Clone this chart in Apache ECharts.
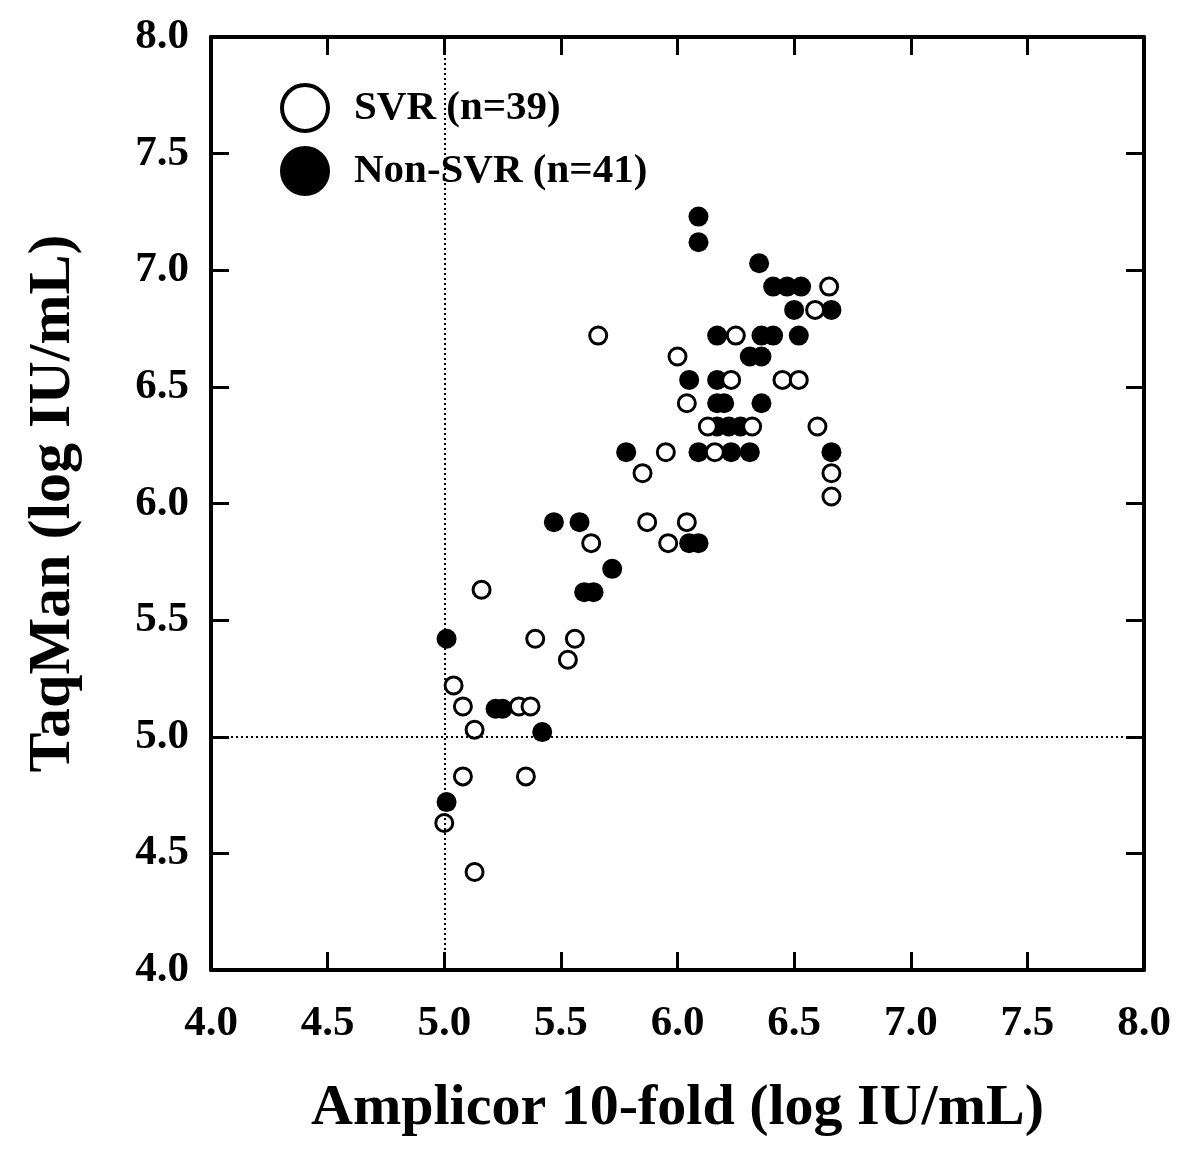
<!DOCTYPE html>
<html>
<head>
<meta charset="utf-8">
<script src="https://cdn.jsdelivr.net/npm/echarts@6/dist/echarts.min.js"></script>
<style>html,body{margin:0;padding:0;background:#fff}#c{width:1200px;height:1156px}</style>
</head>
<body>
<div id="c"></div>
<script>
// Amplicor 10-fold (x) vs TaqMan (y), log IU/mL
const svrX = [6.65,6.59,5.66,6.25,6.00,6.23,6.45,6.52,6.04,6.13,6.32,6.60,5.95,6.16,5.85,6.66,6.66,5.87,6.04,5.63,5.96,5.16,5.39,5.56,5.53,5.04,5.08,5.32,5.37,5.13,5.08,5.35,5.00,5.13];
const svrY = [6.93,6.83,6.72,6.72,6.63,6.53,6.53,6.53,6.43,6.33,6.33,6.33,6.22,6.22,6.13,6.13,6.03,5.92,5.92,5.83,5.83,5.63,5.42,5.42,5.33,5.22,5.13,5.13,5.13,5.03,4.83,4.83,4.63,4.42];
const nonX = [6.09,6.09,6.35,6.41,6.47,6.53,6.50,6.66,6.17,6.36,6.41,6.52,6.31,6.36,6.05,6.17,6.17,6.20,6.36,6.17,6.22,6.27,5.78,6.09,6.23,6.31,6.66,5.47,5.58,6.05,6.09,5.72,5.60,5.64,5.01,5.22,5.25,5.42,5.01];
const nonY = [7.23,7.12,7.03,6.93,6.93,6.93,6.83,6.83,6.72,6.72,6.72,6.72,6.63,6.63,6.53,6.53,6.43,6.43,6.43,6.33,6.33,6.33,6.22,6.22,6.22,6.22,6.22,5.92,5.92,5.83,5.83,5.72,5.62,5.62,5.42,5.12,5.12,5.02,4.72];
const seriesNames = ['SVR (n=39)', 'Non-SVR (n=41)'];
const axisMin = 4.0, axisMax = 8.0, axisStep = 0.5;
const cutoff = 5.0;
const xTitle = 'Amplicor 10-fold (log IU/mL)';
const yTitle = 'TaqMan (log IU/mL)';

const FONT = '"Liberation Serif", "Times New Roman", serif';
const zip = (a, b) => a.map((v, i) => [v, b[i]]);
const fmt = v => v.toFixed(1);

const baseAxis = {
  type: 'value', min: axisMin, max: axisMax, interval: axisStep,
  axisLine: { show: true, lineStyle: { color: '#000', width: 4 } },
  axisTick: { show: true, inside: true, length: 18, lineStyle: { color: '#000', width: 3 } },
  splitLine: { show: false }
};
const labelStyle = { color: '#000', fontFamily: FONT, fontWeight: 'bold', fontSize: 43, formatter: fmt };

const chart = echarts.init(document.getElementById('c'), null, { renderer: 'canvas' });
chart.setOption({
  backgroundColor: '#fff',
  animation: false,
  grid: { left: 211, right: 56, top: 37, bottom: 186, containLabel: false },
  legend: {
    orient: 'vertical', left: 280, top: 83, padding: 0,
    itemWidth: 46, itemHeight: 46, itemGap: 13,
    icon: 'circle',
    data: seriesNames,
    itemStyle: { borderWidth: 4 },
    textStyle: { color: '#000', fontFamily: FONT, fontWeight: 'bold', fontSize: 41, lineHeight: 46, padding: [0, 0, 0, 21] }
  },
  xAxis: [
    Object.assign({}, baseAxis, {
      position: 'bottom',
      axisLabel: Object.assign({}, labelStyle, { margin: 32 }),
      name: xTitle, nameLocation: 'middle', nameGap: 110,
      nameTextStyle: { color: '#000', fontFamily: FONT, fontWeight: 'bold', fontSize: 58 }
    }),
    Object.assign({}, baseAxis, { position: 'top', axisLabel: { show: false } })
  ],
  yAxis: [
    Object.assign({}, baseAxis, {
      position: 'left',
      axisLabel: Object.assign({}, labelStyle, { margin: 22 }),
      name: yTitle, nameLocation: 'middle', nameGap: 128,
      nameTextStyle: { color: '#000', fontFamily: FONT, fontWeight: 'bold', fontSize: 60 }
    }),
    Object.assign({}, baseAxis, { position: 'right', axisLabel: { show: false } })
  ],
  series: [
    {
      name: seriesNames[1], type: 'scatter', symbol: 'circle', symbolSize: 20, z: 2,
      itemStyle: { color: '#000', borderColor: '#000', borderWidth: 0, opacity: 1 },
      data: zip(nonX, nonY),
      markLine: {
        silent: true, symbol: 'none', label: { show: false },
        lineStyle: { color: '#000', type: [2, 3], width: 2 },
        data: [{ xAxis: cutoff }, { yAxis: cutoff }]
      }
    },
    {
      name: seriesNames[0], type: 'scatter', symbol: 'circle', symbolSize: 17, z: 3,
      itemStyle: { color: '#fff', borderColor: '#000', borderWidth: 3, opacity: 1 },
      data: zip(svrX, svrY)
    }
  ]
});
</script>
</body>
</html>
